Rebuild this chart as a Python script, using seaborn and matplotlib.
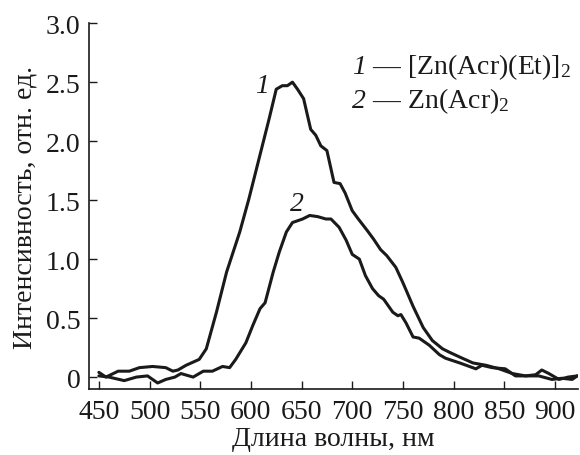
import pandas as pd
import matplotlib.pyplot as plt
import seaborn as sns

#
#  Luminescence spectra
#

wl_1 = [450, 457, 469, 480, 490, 503, 516, 523, 528, 536, 549, 556, 566, 576,
        589, 598, 608, 618, 625, 631, 636, 641, 646, 652, 659, 664, 669, 675,
        682, 688, 693, 700, 706, 715, 721, 728, 734, 743, 750, 760, 770, 779,
        789, 796, 806, 819, 832, 845, 858, 871, 881, 887, 894, 904, 913, 922]
int_1 = [0.04, 0.00, 0.05, 0.05, 0.08, 0.09, 0.08, 0.05, 0.06, 0.10, 0.15,
         0.24, 0.55, 0.89, 1.23, 1.51, 1.85, 2.19, 2.44, 2.47, 2.47, 2.50,
         2.44, 2.36, 2.10, 2.05, 1.96, 1.92, 1.65, 1.64, 1.56, 1.41, 1.34,
         1.24, 1.17, 1.08, 1.03, 0.93, 0.80, 0.60, 0.42, 0.31, 0.24, 0.21,
         0.17, 0.12, 0.10, 0.07, 0.03, 0.01, 0.02, 0.06, 0.03, -0.02, 0.00, 0.01]

wl_2 = [450, 460, 475, 487, 498, 503, 508, 516, 525, 531, 543, 553, 562, 572,
        579, 585, 595, 602, 609, 614, 622, 628, 635, 641, 651, 658, 666, 674,
        679, 687, 694, 700, 707, 713, 720, 726, 731, 740, 745, 748, 753, 760,
        766, 776, 786, 792, 806, 822, 828, 838, 851, 861, 871, 884, 897, 907,
        917, 922]
int_2 = [0.01, 0.00, -0.03, 0.00, 0.01, -0.02, -0.05, -0.02, 0.00, 0.03, 0.00,
         0.05, 0.05, 0.09, 0.08, 0.15, 0.29, 0.44, 0.58, 0.63, 0.89, 1.06, 1.23,
         1.31, 1.34, 1.37, 1.36, 1.34, 1.34, 1.27, 1.16, 1.04, 1.00, 0.86, 0.75,
         0.69, 0.66, 0.55, 0.52, 0.53, 0.46, 0.34, 0.33, 0.27, 0.19, 0.16, 0.12,
         0.07, 0.10, 0.08, 0.07, 0.01, 0.01, 0.01, -0.02, -0.01, -0.02, 0.01]

x_ticks = [450, 500, 550, 600, 650, 700, 750, 800, 850, 900]
y_ticks = [0, 0.5, 1.0, 1.5, 2.0, 2.5, 3.0]
y_labels = ["0", "0.5", "1.0", "1.5", "2.0", "2.5", "3.0"]

key_nums = ["1", "2"]
key_names = [" — [Zn(Acr)(Et)]$_2$", " — Zn(Acr)$_2$"]

spec = pd.concat([
    pd.DataFrame({"wl": wl_1, "inten": int_1, "curve": "1"}),
    pd.DataFrame({"wl": wl_2, "inten": int_2, "curve": "2"}),
])

sns.set_style("ticks")
plt.rcParams['font.family'] = ['Liberation Serif', 'DejaVu Serif']
plt.rcParams['mathtext.fontset'] = 'custom'
plt.rcParams['mathtext.rm'] = 'Liberation Serif'
plt.rcParams['mathtext.it'] = 'Liberation Serif:italic'

FS = 20
ink = "#1a1a1a"

fig = plt.figure(figsize=(5.8, 4.56), dpi=100)
ax1 = fig.add_axes([0.153, 0.145, 0.844, 0.802])

sns.lineplot(data=spec, x="wl", y="inten", hue="curve", sort=False,
             palette=[ink, ink], linewidth=2.2, legend=False, ax=ax1)

ax1.set_xlim(440, 923)
ax1.set_ylim(-0.1, 3.0)
ax1.set_xticks(x_ticks)
ax1.set_yticks(y_ticks)
ax1.set_yticklabels(y_labels)
ax1.tick_params(direction="in", length=6, width=1, labelsize=FS, colors=ink)
ax1.tick_params(axis="x", pad=7)
ax1.tick_params(axis="y", pad=6)
sns.despine(ax=ax1)
for s in ["left", "bottom"]:
    ax1.spines[s].set_linewidth(1.2)
    ax1.spines[s].set_color(ink)

ax1.set_xlabel("Длина волны, нм", fontsize=FS, color=ink, labelpad=2)
ax1.set_ylabel("Интенсивность, отн. ед.", fontsize=FS, color=ink, labelpad=6)

#  curve numbers and the key
ax1.text(611, 2.47, "1", fontsize=FS, style="italic", ha="center", va="center", color=ink)
ax1.text(645, 1.47, "2", fontsize=FS, style="italic", ha="center", va="center", color=ink)
for num, name, yk in zip(key_nums, key_names, [2.58, 2.29]):
    ax1.text(700, yk, num, fontsize=FS, style="italic", va="baseline", color=ink)
    ax1.annotate(name, xy=(700, yk), xycoords="data", xytext=(10, 0),
                 textcoords="offset points", va="baseline", fontsize=FS, color=ink)

fig.savefig("out.png")
